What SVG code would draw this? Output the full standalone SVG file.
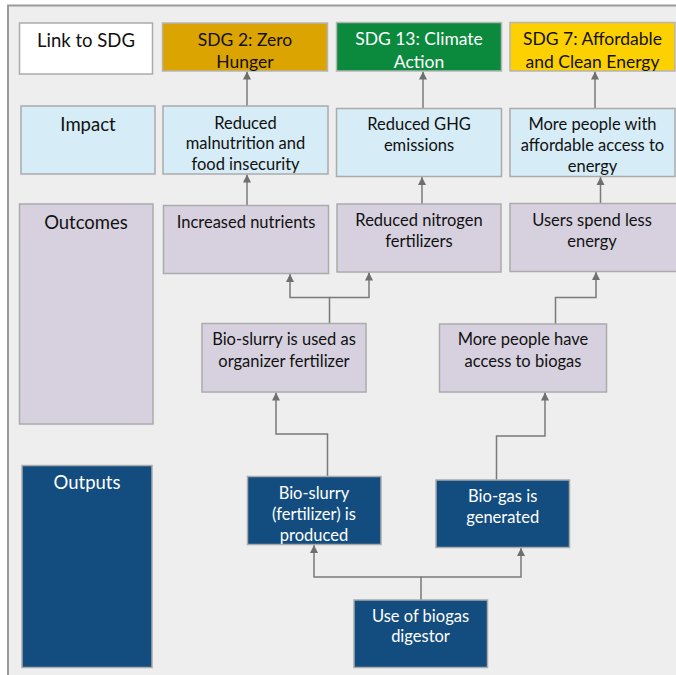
<svg xmlns="http://www.w3.org/2000/svg" width="676" height="675" viewBox="0 0 676 675">
<defs>
<marker id="ah" markerUnits="userSpaceOnUse" markerWidth="10" markerHeight="10" viewBox="0 0 10 10" refX="9" refY="5" orient="auto">
<path d="M1,1 L9,5 L1,9 Z" fill="#6f6f6f"/>
</marker>
<style>
.box{stroke:#ababab;stroke-width:1.5}
.sdg{stroke:#b5b5b5;stroke-width:1.5}
.w{fill:#ffffff}
.imp{fill:#d6ecf6}
.out{fill:#d7d1df}
.op{fill:#134d7f}
text{font-family:Lato,"Open Sans","Liberation Sans",sans-serif;font-size:16.5px;text-anchor:middle;fill:#111}
.lbl{font-size:18.5px}
.st{font-size:17.5px}
.wt{fill:#ffffff}
.con{fill:none;stroke:#7a7a7a;stroke-width:1.5}
</style>
</defs>
<rect x="0" y="0" width="676" height="675" fill="#ffffff"/>
<rect x="8" y="5.5" width="720" height="720" fill="#eeeeee" stroke="#9a9a9a" stroke-width="2"/>

<g id="connectors">
<path class="con" d="M247,106 V71.5" marker-end="url(#ah)"/>
<path class="con" d="M423,108.5 V71.5" marker-end="url(#ah)"/>
<path class="con" d="M595,108.5 V71.5" marker-end="url(#ah)"/>
<path class="con" d="M247,205.5 V174.5" marker-end="url(#ah)"/>
<path class="con" d="M422,204 V177" marker-end="url(#ah)"/>
<path class="con" d="M600.5,203.5 V177" marker-end="url(#ah)"/>
<path class="con" d="M329.5,323.5 V297.5 H290 V274" marker-end="url(#ah)"/>
<path class="con" d="M329.5,297.5 H369 V272.5" marker-end="url(#ah)"/>
<path class="con" d="M555.5,324 V297.5 H596 V272" marker-end="url(#ah)"/>
<path class="con" d="M327.5,476.5 V434 H276 V392.5" marker-end="url(#ah)"/>
<path class="con" d="M496.5,480 V436 H545 V392.5" marker-end="url(#ah)"/>
<path class="con" d="M421,600 V577 H314 V545" marker-end="url(#ah)"/>
<path class="con" d="M421,577 H521 V548" marker-end="url(#ah)"/>
</g>

<g id="link-sdg">
<rect class="box w" x="19.5" y="23" width="133" height="51"/>
<text class="lbl" x="86" y="47">Link to SDG</text>
</g>
<g id="sdg2">
<rect class="sdg" fill="#dba400" x="162.5" y="23" width="165" height="48"/>
<text class="st" x="245" y="45.5">SDG 2: Zero</text>
<text class="st" x="245" y="68">Hunger</text>
</g>
<g id="sdg13">
<rect class="sdg" fill="#0b8a3e" x="336.5" y="22.5" width="165" height="48.5"/>
<text class="st wt" x="419" y="45">SDG 13: Climate</text>
<text class="st wt" x="419" y="68">Action</text>
</g>
<g id="sdg7">
<rect class="sdg" fill="#fdd100" x="510" y="22.5" width="165" height="48.5"/>
<text class="st" x="592.5" y="45">SDG 7: Affordable</text>
<text class="st" x="592.5" y="68">and Clean Energy</text>
</g>

<g id="impact">
<rect class="box imp" x="21" y="106" width="134" height="68"/>
<text class="lbl" x="88" y="130.5">Impact</text>
</g>
<g id="malnutrition">
<rect class="box imp" x="163" y="106" width="165" height="68"/>
<text x="245.5" y="128.5">Reduced</text>
<text x="245.5" y="149">malnutrition and</text>
<text x="245.5" y="169.5">food insecurity</text>
</g>
<g id="ghg">
<rect class="box imp" x="336.5" y="108.5" width="165" height="68"/>
<text x="419" y="130">Reduced GHG</text>
<text x="419" y="150.7">emissions</text>
</g>
<g id="energy-access">
<rect class="box imp" x="510" y="108.5" width="165" height="68"/>
<text x="592.5" y="130">More people with</text>
<text x="592.5" y="150.7">affordable access to</text>
<text x="592.5" y="171.5">energy</text>
</g>

<g id="outcomes">
<rect class="box out" x="19.5" y="204" width="133.5" height="220"/>
<text class="lbl" x="86" y="228.7">Outcomes</text>
</g>
<g id="nutrients">
<rect class="box out" x="163.5" y="205.5" width="165" height="68"/>
<text x="246" y="227.7">Increased nutrients</text>
</g>
<g id="nitrogen">
<rect class="box out" x="337" y="204" width="164" height="68"/>
<text x="419" y="226">Reduced nitrogen</text>
<text x="419" y="246.7">fertilizers</text>
</g>
<g id="spend-less">
<rect class="box out" x="510" y="203.5" width="170" height="68"/>
<text x="592" y="226">Users spend less</text>
<text x="592" y="246.7">energy</text>
</g>
<g id="slurry-used">
<rect class="box out" x="202" y="323.5" width="164" height="68.5"/>
<text x="284" y="345.3">Bio-slurry is used as</text>
<text x="284" y="366.7">organizer fertilizer</text>
</g>
<g id="more-access">
<rect class="box out" x="439.5" y="324" width="167" height="68"/>
<text x="523" y="345.3">More people have</text>
<text x="523" y="366.7">access to biogas</text>
</g>

<g id="outputs">
<rect class="box op" x="22" y="465.5" width="130" height="202"/>
<text class="lbl wt" x="87" y="489.3">Outputs</text>
</g>
<g id="slurry-produced">
<rect class="box op" x="247.5" y="476.5" width="133.5" height="68"/>
<text class="wt" x="314" y="499">Bio-slurry</text>
<text class="wt" x="314" y="520">(fertilizer) is</text>
<text class="wt" x="314" y="541">produced</text>
</g>
<g id="biogas">
<rect class="box op" x="436" y="480" width="133.5" height="67.5"/>
<text class="wt" x="502.7" y="501.7">Bio-gas is</text>
<text class="wt" x="502.7" y="522.7">generated</text>
</g>
<g id="digestor">
<rect class="box op" x="354" y="600" width="133.5" height="67.5"/>
<text class="wt" x="420.5" y="621.7">Use of biogas</text>
<text class="wt" x="420.5" y="642.3">digestor</text>
</g>
</svg>
